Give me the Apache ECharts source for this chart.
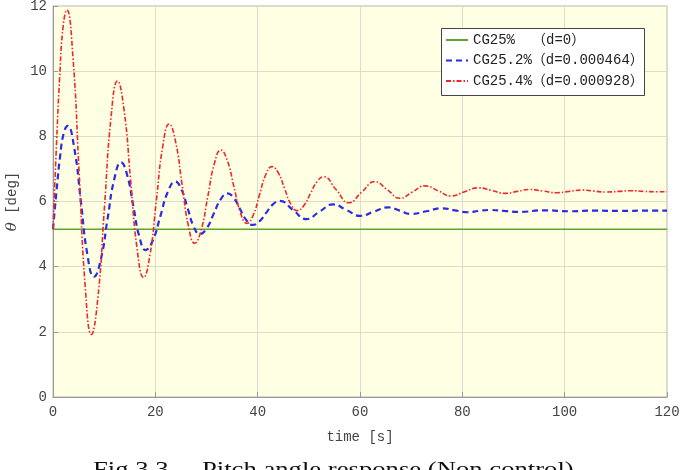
<!DOCTYPE html>
<html><head><meta charset="utf-8">
<script src="https://cdn.jsdelivr.net/npm/echarts@6/dist/echarts.min.js"></script>
<style>html,body{margin:0;padding:0;background:#fff}#c{width:681px;height:470px}</style>
</head><body><div id="c"></div>
<script>
// ---- data ----
const xTicks = [0, 20, 40, 60, 80, 100, 120];
const yTicks = [0, 2, 4, 6, 8, 10, 12];
const seriesNames = ['CG25%　（d=0）', 'CG25.2%（d=0.000464）', 'CG25.4%（d=0.000928）'];
const captionText = 'Fig.3.3　 Pitch angle response (Non control)';

const greenT = [0, 120];
const greenV = [5.15, 5.15];

const blueT = [0, 0.7, 1.4, 2.1, 2.85, 4.15, 5.45, 6.73, 8.0, 9.33, 10.65, 11.98, 13.3, 14.5, 15.7, 16.9, 18.1, 19.55, 21.0, 22.45, 23.9, 25.1, 26.3, 27.5, 28.7, 30.05, 31.4, 32.75, 34.1, 35.33, 36.55, 37.78, 39.0, 40.33, 41.65, 42.98, 44.3, 46.9, 49.5, 52.1, 54.7, 57.35, 60.0, 62.75, 65.5, 67.75, 70.0, 73.0, 76.0, 78.5, 81.1, 83.2, 85.4, 88.2, 91.0, 96, 101, 106, 111, 116, 120];
const blueV = [5.15, 6.34, 7.4, 8.10, 8.32, 7.64, 6.0, 4.36, 3.69, 4.21, 5.45, 6.69, 7.20, 6.81, 5.86, 4.91, 4.51, 4.82, 5.56, 6.30, 6.61, 6.37, 5.8, 5.23, 5.00, 5.18, 5.62, 6.06, 6.25, 6.11, 5.77, 5.43, 5.28, 5.39, 5.65, 5.91, 6.02, 5.74, 5.46, 5.69, 5.91, 5.74, 5.56, 5.69, 5.82, 5.72, 5.62, 5.70, 5.79, 5.73, 5.67, 5.71, 5.74, 5.71, 5.68, 5.73, 5.70, 5.72, 5.71, 5.72, 5.72];

const redT = [0, 0.6, 1.3, 2.0, 2.7, 3.9, 5.1, 6.3, 7.5, 8.78, 10.05, 11.33, 12.6, 13.88, 15.15, 16.43, 17.7, 18.95, 20.2, 21.45, 22.7, 23.95, 25.2, 26.45, 27.7, 28.98, 30.25, 31.53, 32.8, 34.08, 35.35, 36.63, 37.9, 39.13, 40.35, 41.58, 42.8, 44.03, 45.25, 46.48, 47.7, 49.0, 50.3, 51.6, 52.9, 55.35, 57.8, 60.35, 62.9, 65.35, 67.8, 70.25, 72.7, 75.25, 77.8, 80.45, 83.1, 85.7, 88.3, 90.75, 93.2, 95.8, 98.4, 100.85, 103.3, 105.7, 108.1, 110.55, 113, 115.5, 118, 120];
const redV = [5.15, 7.45, 9.8, 11.41, 11.88, 10.42, 6.9, 3.38, 1.92, 3.06, 5.81, 8.56, 9.70, 8.82, 6.69, 4.56, 3.67, 4.36, 6.03, 7.69, 8.38, 7.84, 6.55, 5.26, 4.72, 5.14, 6.15, 7.16, 7.58, 7.25, 6.46, 5.66, 5.33, 5.58, 6.20, 6.82, 7.07, 6.88, 6.40, 5.92, 5.72, 5.87, 6.24, 6.61, 6.76, 6.36, 5.96, 6.29, 6.61, 6.36, 6.10, 6.29, 6.48, 6.33, 6.17, 6.30, 6.42, 6.34, 6.25, 6.31, 6.37, 6.32, 6.27, 6.31, 6.35, 6.32, 6.29, 6.31, 6.33, 6.31, 6.30, 6.30];

function pairs(t, v) { return t.map((x, i) => [x, v[i]]); }

const chart = echarts.init(document.getElementById('c'), null, {renderer: 'canvas'});
const monoFont = '"Liberation Mono", "Noto Sans CJK JP", monospace';
chart.setOption({
  animation: false,
  backgroundColor: '#ffffff',
  grid: {
    left: 53, right: 14, top: 6, bottom: 73,
    containLabel: false, outerBoundsMode: 'none',
    show: true, backgroundColor: '#FFFFE3', borderColor: '#b8b8b0', borderWidth: 1
  },
  xAxis: {
    type: 'value', min: xTicks[0], max: xTicks[xTicks.length - 1], interval: 20,
    name: 'time [s]', nameLocation: 'middle', nameGap: 33,
    nameTextStyle: {fontFamily: monoFont, fontSize: 14, color: '#444'},
    axisLine: {show: true, lineStyle: {color: '#999', width: 1}},
    axisTick: {show: true, inside: true, length: 5, lineStyle: {color: '#999'}},
    axisLabel: {fontFamily: monoFont, fontSize: 14, color: '#444', margin: 8},
    splitLine: {show: true, lineStyle: {color: '#dcdccd', width: 1}}
  },
  yAxis: {
    type: 'value', min: yTicks[0], max: yTicks[yTicks.length - 1], interval: 2,
    name: '{i|θ} [deg]', nameLocation: 'middle', nameGap: 30, nameRotate: 90,
    nameTextStyle: {fontFamily: monoFont, fontSize: 14, color: '#444',
      rich: {i: {fontStyle: 'italic', fontFamily: '"DejaVu Serif", serif', fontSize: 15, color: '#444'}}},
    axisLine: {show: true, lineStyle: {color: '#999', width: 1}},
    axisTick: {show: true, inside: true, length: 5, lineStyle: {color: '#999'}},
    axisLabel: {fontFamily: monoFont, fontSize: 14, color: '#444', margin: 6},
    splitLine: {show: true, lineStyle: {color: '#dcdccd', width: 1}}
  },
  legend: {
    left: 441, top: 28, orient: 'vertical', z: 10,
    padding: [5, 6, 5, 4], itemGap: 6.5, itemWidth: 22, itemHeight: 14,
    backgroundColor: 'transparent',
    itemStyle: {opacity: 0},
    formatter: function (name) {
      return name.indexOf('　') >= 0 ? name.replace('　', '{sp|　}') : name;
    },
    textStyle: {fontFamily: monoFont, fontSize: 14, color: '#222',
      rich: {sp: {width: 17, fontFamily: monoFont, fontSize: 14, color: '#222'}}},
    data: seriesNames
  },
  graphic: [
    {type: 'rect', left: 441, top: 28, z: 5, shape: {width: 203, height: 67},
     style: {fill: '#ffffff', stroke: '#444', lineWidth: 1}},
    {type: 'text', x: 93, y: 459.5, scaleX: 1.27, z: 5,
     style: {text: captionText, font: '21px "Liberation Serif", serif', fill: '#111', textVerticalAlign: 'top', verticalAlign: 'top'}}
  ],
  series: [
    {name: seriesNames[0], type: 'line', data: pairs(greenT, greenV), showSymbol: false, symbol: 'none',
     lineStyle: {color: '#5fa42c', width: 1.5, type: 'solid'}, itemStyle: {color: '#5fa42c'}},
    {name: seriesNames[1], type: 'line', data: pairs(blueT, blueV), showSymbol: false, symbol: 'none', smooth: 0.5,
     lineStyle: {color: '#2b2be6', width: 2.2, type: [6, 4]}, itemStyle: {color: '#2b2be6'}},
    {name: seriesNames[2], type: 'line', data: pairs(redT, redV), showSymbol: false, symbol: 'none', smooth: 0.5,
     lineStyle: {color: '#f0262a', width: 1.6, type: [5, 2, 1.5, 2]}, itemStyle: {color: '#f0262a'}}
  ]
});
</script></body></html>
